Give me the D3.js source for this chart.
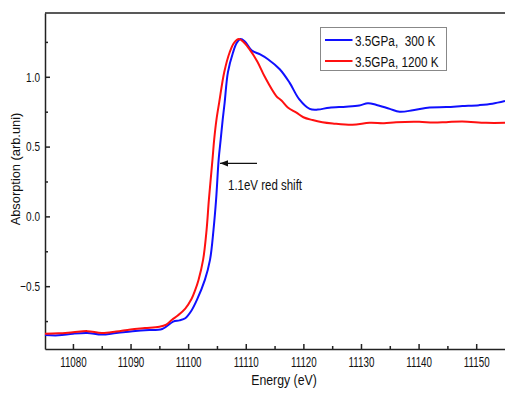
<!DOCTYPE html>
<html>
<head>
<meta charset="utf-8">
<script src="https://cdn.jsdelivr.net/npm/d3@7"></script>
<style>
  body { margin: 0; background: #fff; }
  text { font-family: "Liberation Sans", Arial, sans-serif; fill: #111; white-space: pre; }
</style>
</head>
<body>
<div class="chart"></div>
<script>
// [energy (eV), absorption]
const blue300K = [
  [11075.15,-0.85],[11077.5,-0.852],[11080,-0.84],[11082.5,-0.835],[11085,-0.847],
  [11087.5,-0.835],[11090,-0.825],[11092.5,-0.815],[11095.5,-0.807],[11097.4,-0.754],
  [11098.5,-0.745],[11099.5,-0.73],[11100.5,-0.68],[11101.5,-0.60],[11102.9,-0.455],
  [11103.8,-0.31],[11104.4,-0.096],[11104.85,0.12],[11105.3,0.41],[11105.65,0.551],
  [11106.0,0.695],[11106.34,0.817],[11106.9,1.032],[11107.8,1.176],[11108.4,1.24],
  [11109.05,1.27],[11109.8,1.255],
  [11111.0,1.19],[11112.5,1.16],[11113.85,1.126],[11115.9,1.054],[11117.6,0.958],
  [11119.3,0.838],[11121.1,0.77],[11122.5,0.765],[11124.5,0.779],[11127.4,0.786],
  [11129.7,0.795],[11131.2,0.81],[11132.6,0.80],[11135.0,0.77],[11136.7,0.75],
  [11139.0,0.76],[11141.9,0.78],[11144.8,0.783],[11147.6,0.79],[11150.5,0.797],
  [11152.8,0.807],[11155,0.826]
];
const red1200K = [
  [11075.15,-0.84],[11077.5,-0.838],[11080,-0.83],[11082.5,-0.822],[11085,-0.835],
  [11087.5,-0.825],[11090,-0.81],[11092.5,-0.80],[11095,-0.79],[11096.2,-0.775],
  [11097.2,-0.74],[11098.2,-0.71],[11099.5,-0.66],[11100.6,-0.59],[11101.2,-0.53],
  [11101.8,-0.455],[11102.6,-0.31],[11103.2,-0.096],[11103.6,0.12],[11104.23,0.41],
  [11104.52,0.551],[11104.92,0.695],[11105.39,0.817],[11106.26,1.032],[11107.21,1.176],
  [11108.0,1.245],[11108.8,1.27],
  [11109.6,1.25],[11110.6,1.20],[11112.0,1.11],[11113.3,1.00],[11115.3,0.862],
  [11116.2,0.83],[11117.3,0.78],[11118.8,0.743],[11120.0,0.71],[11121.6,0.69],
  [11123.3,0.675],[11125.1,0.666],[11128.5,0.656],[11131.5,0.67],[11134,0.668],
  [11136.1,0.675],[11140.1,0.678],[11142.5,0.672],[11144.8,0.675],[11147.6,0.68],
  [11151.7,0.67],[11155,0.67]
];
const seriesNames = ['3.5GPa,  300 K', '3.5GPa, 1200 K'];
const seriesColors = ['#1010ff', '#ff1010'];
const xTicks = [11080, 11090, 11100, 11110, 11120, 11130, 11140, 11150];
const xMinor = [11085, 11095, 11105, 11115, 11125, 11135, 11145];
const yTicks = [-0.5, 0.0, 0.5, 1.0];
const yMinor = [-0.75, -0.25, 0.25, 0.75, 1.25];

const W = 505, H = 394;
const margin = {top:13, left:45, bottom:45, right:0};
const width = W - margin.left - margin.right;
const height = H - margin.top - margin.bottom;

let svg = d3.select('.chart').append('svg')
    .attr('width', W)
    .attr('height', H)
    .append('g')
    .attr('transform', 'translate(' + margin.left + ',' + margin.top + ')');

const x = d3.scaleLinear().domain([11075.15, 11155]).range([0, width]);
const y = d3.scaleLinear().domain([-0.95, 1.457]).range([height, 0]);

// squeeze text horizontally like the narrow font in the picture
function condense(sel, k) {
    sel.each(function() {
        const L = this.getComputedTextLength();
        d3.select(this).attr('textLength', L * k).attr('lengthAdjust', 'spacingAndGlyphs');
    });
}

let X = svg.append('g')
    .attr('transform', `translate(0, ${height})`)
    .call(d3.axisBottom(x).tickValues(xTicks).tickSizeInner(-5).tickSizeOuter(0)
        .tickPadding(8).tickFormat(d3.format('d')));
X.selectAll('text').attr('font-size', 14).attr('fill', '#111').call(condense, 0.7);

svg.append('g')
    .attr('transform', `translate(0, ${height})`)
    .call(d3.axisBottom(x).tickValues(xMinor).tickSize(-3).tickFormat(''))
    .select('.domain').remove();

let Y = svg.append('g')
    .call(d3.axisLeft(y).tickValues(yTicks).tickSizeInner(-5).tickSizeOuter(0)
        .tickPadding(5).tickFormat(d3.format('.1f')));
Y.selectAll('text').attr('font-size', 13.5).attr('fill', '#111').call(condense, 0.74);

svg.append('g')
    .call(d3.axisLeft(y).tickValues(yMinor).tickSize(-3).tickFormat(''))
    .select('.domain').remove();

svg.selectAll('.domain, .tick line').attr('stroke', '#222').attr('stroke-width', 1.5);

svg.append('line')
    .attr('x1', 0).attr('x2', width)
    .attr('y1', 0).attr('y2', 0)
    .attr('stroke', '#222').attr('stroke-width', 1.5);

svg.append('text')
    .attr('x', width / 2 + 9)
    .attr('y', height + 36)
    .attr('text-anchor', 'middle')
    .attr('font-size', 15)
    .text('Energy (eV)')
    .call(condense, 0.82);

svg.append('text')
    .attr('transform', `translate(${19.5 - margin.left}, ${169 - margin.top}) rotate(-90)`)
    .attr('text-anchor', 'middle')
    .attr('font-size', 13.5)
    .text('Absorption (arb.uni)')
    .call(condense, 0.95);

const line = d3.line()
    .x(d => x(d[0]))
    .y(d => y(d[1]))
    .curve(d3.curveCatmullRom.alpha(0.5));

[blue300K, red1200K].forEach((s, i) => {
    svg.append('path')
        .datum(s)
        .attr('d', line)
        .attr('fill', 'none')
        .attr('stroke', seriesColors[i])
        .attr('stroke-width', 2);
});

// red shift annotation: arrow pointing at the 300 K edge
const arrowY = y(0.38);
svg.append('defs').append('marker')
    .attr('id', 'head')
    .attr('viewBox', '0 0 10 10')
    .attr('refX', 10).attr('refY', 5)
    .attr('markerWidth', 7).attr('markerHeight', 7)
    .attr('orient', 'auto')
    .append('path')
    .attr('d', 'M0,1 L10,5 L0,9 Z')
    .attr('fill', '#111');

svg.append('line')
    .attr('x1', 257 - margin.left).attr('x2', 220 - margin.left)
    .attr('y1', arrowY).attr('y2', arrowY)
    .attr('stroke', '#111').attr('stroke-width', 1.2)
    .attr('marker-end', 'url(#head)');

svg.append('text')
    .attr('x', 228 - margin.left)
    .attr('y', 190 - margin.top)
    .attr('font-size', 14)
    .text('1.1eV red shift')
    .call(condense, 0.82);

// legend
let legend = svg.append('g')
    .attr('transform', `translate(${320.5 - margin.left}, ${27.5 - margin.top})`);

legend.append('rect')
    .attr('width', 126).attr('height', 43)
    .attr('fill', '#fff')
    .attr('stroke', '#888').attr('stroke-width', 1);

seriesNames.forEach((name, i) => {
    const ly = 12.5 + i * 21;
    legend.append('line')
        .attr('x1', 4.5).attr('x2', 32)
        .attr('y1', ly).attr('y2', ly)
        .attr('stroke', seriesColors[i]).attr('stroke-width', 2);
    legend.append('text')
        .attr('x', 34.5).attr('y', ly + 5.5)
        .attr('font-size', 14)
        .text(name)
        .call(condense, 0.84);
});
</script>
</body>
</html>
